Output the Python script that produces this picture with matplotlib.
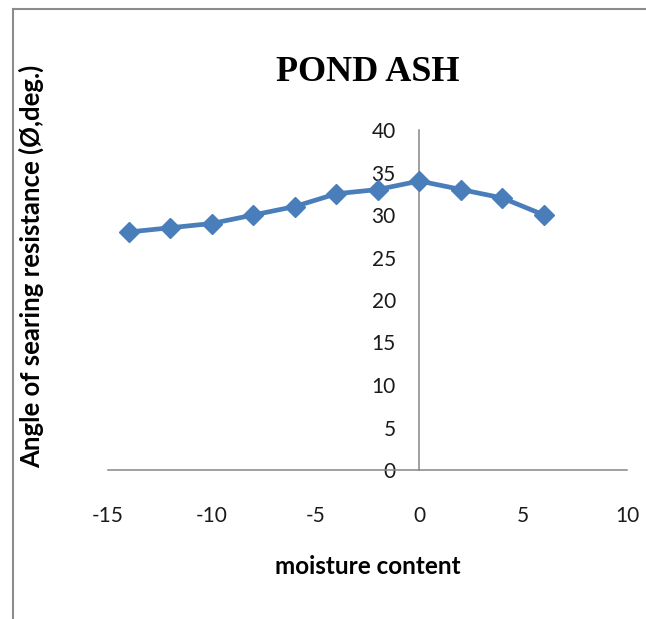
import matplotlib
matplotlib.use('Agg')
import matplotlib.pyplot as plt
from matplotlib.lines import Line2D

# ── Data ───────────────────────────────────────────────────────────────────
moisture = [-14, -12, -10, -8, -6, -4, -2, 0, 2, 4, 6]
phi_deg = [28.0, 28.5, 29.0, 30.0, 31.0, 32.5, 33.0, 34.0, 33.0, 32.0, 30.0]
x_ticks = [-15, -10, -5, 0, 5, 10]
y_ticks = [0, 5, 10, 15, 20, 25, 30, 35, 40]

BLUE = "#4a7ebb"
AXIS = "#868686"
FONT = "Lato"

plt.rcParams['axes.unicode_minus'] = False

fig = plt.figure(figsize=(6.46, 6.19), dpi=100)
fig.patch.set_facecolor("white")

# chart frame (only left and top edges fall inside the image)
fig.add_artist(Line2D([13/646, 13/646], [0, 1 - 9/619], color="#8c8c8c", lw=1.5))
fig.add_artist(Line2D([13/646, 1], [1 - 9/619, 1 - 9/619], color="#8c8c8c", lw=1.5))

ax = fig.add_axes([108/646, 149/619, 519/646, 340/619])
ax.plot(moisture, phi_deg, color=BLUE, lw=3.4, marker='D', ms=10,
        markerfacecolor=BLUE, markeredgecolor=BLUE, zorder=3)

ax.set_xlim(-15, 10)
ax.set_ylim(0, 40)
ax.set_xticks(x_ticks)
ax.set_yticks(y_ticks)

# axes cross at the origin, Excel style
ax.spines['left'].set_position(('data', 0))
ax.spines['bottom'].set_position(('data', 0))
ax.spines['right'].set_visible(False)
ax.spines['top'].set_visible(False)
for s in ('left', 'bottom'):
    ax.spines[s].set_color(AXIS)
    ax.spines[s].set_linewidth(1.1)

ax.tick_params(axis='both', length=0, labelsize=15, labelcolor="#1a1a1a")
ax.tick_params(axis='y', pad=17)
ax.tick_params(axis='x', pad=26)
for lab in ax.get_xticklabels() + ax.get_yticklabels():
    lab.set_fontfamily(FONT)

ax.set_title("POND ASH", fontfamily="Liberation Serif", fontweight='bold',
             fontsize=26, pad=35, x=0.5)

fig.text(368/646, 1 - 566/619, "moisture content", ha='center', va='center',
         fontsize=17.5, fontweight='bold', fontfamily=FONT)
fig.text(31/646, 1 - 266/619, "Angle of searing resistance (\u00d8,deg.)",
         ha='center', va='center', rotation=90, fontsize=18.5,
         fontweight='bold', fontfamily=FONT)

fig.savefig("out.png", dpi=100, facecolor="white")
